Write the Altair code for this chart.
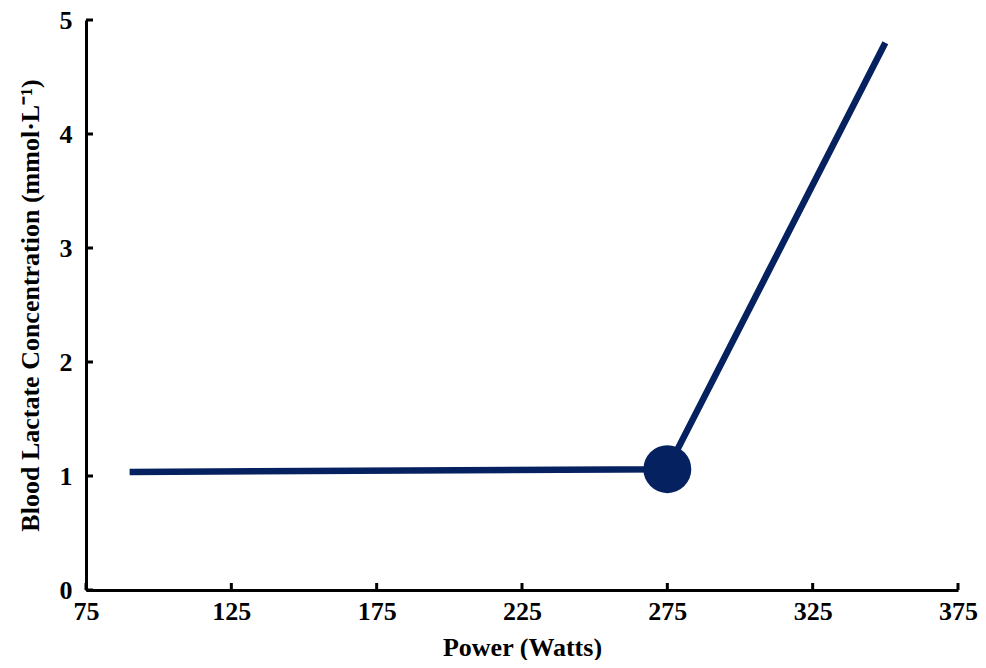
import altair as alt
import pandas as pd

# Data
power = [90, 275, 350]
lactate = [1.035, 1.06, 4.8]
threshold_power = [275]
threshold_lactate = [1.06]
x_ticks = [75, 125, 175, 225, 275, 325, 375]
y_ticks = [0, 1, 2, 3, 4, 5]

NAVY = "#06215f"
FONT = "Liberation Serif"
W, H = 872, 570

df = pd.DataFrame({"power": power, "lactate": lactate})
knee = pd.DataFrame({"power": threshold_power, "lactate": threshold_lactate})
xt = pd.DataFrame({"power": x_ticks})
yt = pd.DataFrame({"lactate": y_ticks})

xscale = alt.Scale(domain=[75, 375], nice=False, zero=False)
yscale = alt.Scale(domain=[0, 5], nice=False, zero=False)
xaxis = alt.Axis(values=x_ticks, title="Power (Watts)", ticks=False, labelFlush=False,
                 labelPadding=8, titlePadding=10, grid=False)
yaxis = alt.Axis(values=y_ticks, title="Blood Lactate Concentration (mmol·L⁻¹)",
                 ticks=False, labelFlush=False, labelPadding=14, titlePadding=16, grid=False)

X = alt.X("power:Q", scale=xscale, axis=xaxis)
Y = alt.Y("lactate:Q", scale=yscale, axis=yaxis)

line = alt.Chart(df).mark_line(color=NAVY, strokeWidth=6.5, strokeCap="butt").encode(x=X, y=Y)

point = alt.Chart(knee).mark_point(filled=True, color=NAVY, size=2300, opacity=1, shape="circle").encode(x=X, y=Y)

xtick_rules = alt.Chart(xt).mark_rule(color="black", strokeWidth=3).encode(
    x=X,
    y=alt.value(H),
    y2=alt.value(H - 7),
)

ytick_rules = alt.Chart(yt).mark_rule(color="black", strokeWidth=3).encode(
    y=Y,
    x=alt.value(0),
    x2=alt.value(7),
)

chart = alt.layer(line, point, xtick_rules, ytick_rules).properties(
    width=W, height=H,
    autosize="none",
    padding={"left": 78, "top": 12, "right": 20, "bottom": 70},
).configure_view(stroke=None).configure_axis(
    domainColor="black", domainWidth=3,
    labelFont=FONT, labelFontWeight="bold", labelFontSize=26, labelColor="black",
    titleFont=FONT, titleFontWeight="bold", titleFontSize=26, titleColor="black",
)

chart.save("out.html", embed_options={"renderer": "svg", "actions": False})
